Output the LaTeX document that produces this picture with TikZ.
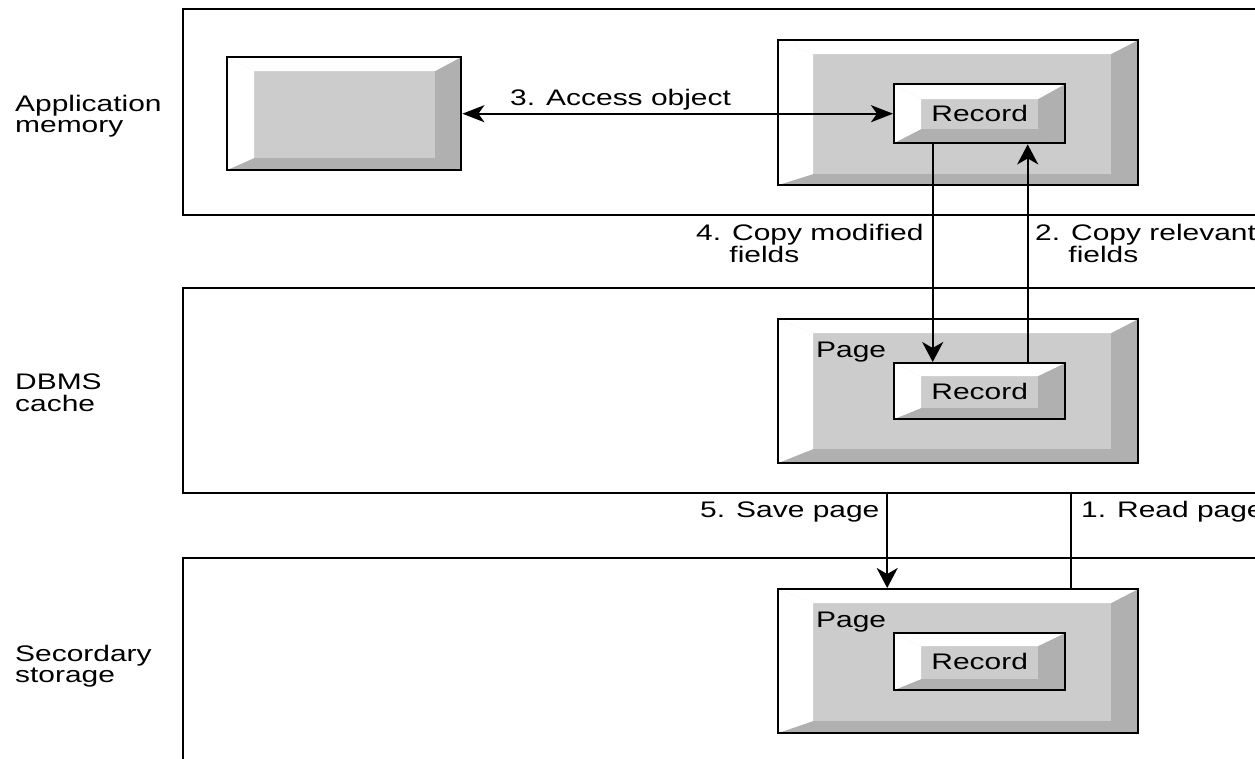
\documentclass[tikz,border=0pt]{standalone}
\usepackage{fontspec}
\setmainfont{Liberation Sans}
\usepackage{graphicx}
\usetikzlibrary{arrows.meta}

\definecolor{face}{HTML}{CCCCCC}
\definecolor{sidegray}{HTML}{B0B0B0}

% wide sans lettering used throughout
\newcommand\wide[1]{\scalebox{1.33}[1]{#1}}
\newcommand\lines[1]{\wide{\begin{tabular}[t]{@{}l@{}}#1\end{tabular}}}

\tikzset{
  lane/.style={draw=black, line width=2pt, inner sep=0pt, anchor=north west},
  % raised box: #1 left, #2 top, #3 right, #4 bottom bevel widths
  bevelbox/.style n args={4}{draw=black, line width=2.4pt, fill=face,
    inner sep=0pt, anchor=north west,
    path picture={
      \path (path picture bounding box.north west) coordinate (bNW)
            (path picture bounding box.north east) coordinate (bNE)
            (path picture bounding box.south east) coordinate (bSE)
            (path picture bounding box.south west) coordinate (bSW);
      \path ([shift={(#1,#2)}]bNW) coordinate (iNW)
            ([shift={(-#3,#2)}]bNE) coordinate (iNE)
            ([shift={(-#3,-#4)}]bSE) coordinate (iSE)
            ([shift={(#1,-#4)}]bSW) coordinate (iSW);
      \fill[white] (bNW) -- (bNE) -- (iNE) -- (iNW) -- cycle;
      \fill[white] (bNW) -- (iNW) -- (iSW) -- (bSW) -- cycle;
      \fill[sidegray] (bNE) -- (bSE) -- (iSE) -- (iNE) -- cycle;
      \fill[sidegray] (bSW) -- (iSW) -- (iSE) -- (bSE) -- cycle;
    }},
  label/.style={anchor=base west, inner sep=0pt},
  flow/.style={line width=2.3pt},
  htip/.tip={Stealth[length=22pt,width=17pt,inset=6pt]},
  vtip/.tip={Stealth[length=20pt,width=21pt,inset=6pt]},
}

\begin{document}
\begin{tikzpicture}[x=1pt,y=-1pt,
  every node/.style={font=\fontsize{22.5}{21.5}\selectfont}]
\path[use as bounding box, clip] (0,0) rectangle (1255,758);

% storage levels
\node[lane, minimum width=1120pt, minimum height=206pt] (app)   at (182,8)   {};
\node[lane, minimum width=1120pt, minimum height=205pt] (cache) at (182,287) {};
\node[lane, minimum width=1120pt, minimum height=250pt] (store) at (182,557) {};

\node[label] (lapp)   at (15,111) {\lines{Application\\memory}};
\node[label] (lcache) at (15,389) {\lines{DBMS\\cache}};
\node[label] (lstore) at (15,661) {\lines{Secordary\\storage}};

% application memory
\node[bevelbox={27}{14}{26}{12}, minimum width=234pt, minimum height=113pt] (obj) at (226,56) {};
\node[bevelbox={35}{14}{27}{11}, minimum width=360pt, minimum height=145pt] (mem) at (777,39) {};
\node[bevelbox={27}{15}{27}{14}, minimum width=171pt, minimum height=59pt] (rec1) at (893,83) {\wide{Record}};

% DBMS cache
\node[bevelbox={35}{14}{27}{14}, minimum width=360pt, minimum height=144pt] (page2) at (777,318) {};
\node[label] (lpage2) at (816,357) {\wide{Page}};
\node[bevelbox={27}{13}{27}{11}, minimum width=171pt, minimum height=56pt] (rec2) at (893,362) {\wide{Record}};

% secondary storage
\node[bevelbox={35}{14}{27}{12}, minimum width=360pt, minimum height=144pt] (page3) at (777,588) {};
\node[label] (lpage3) at (816,627) {\wide{Page}};
\node[bevelbox={27}{13}{27}{11}, minimum width=171pt, minimum height=57pt] (rec3) at (893,632) {\wide{Record}};

% data movement
\draw[flow, htip-htip] (obj.east) -- (rec1.west);
\node[label] (l3) at (510,105) {\wide{3. Access object}};

\coordinate (c4a) at ([xshift=-47]rec1.south);
\coordinate (c4b) at ([xshift=-47]rec2.north);
\draw[flow, -vtip] (c4a) -- (c4b);
\node[label] (l4) at (696,240) {\lines{4. Copy modified\\\hspace*{25pt}fields}};

\coordinate (c2a) at ([xshift=48]rec2.north);
\coordinate (c2b) at ([xshift=48]rec1.south);
\draw[flow, -vtip] (c2a) -- (c2b);
\node[label] (l2) at (1035,240) {\lines{2. Copy relevant\\\hspace*{25pt}fields}};

\coordinate (c5) at ([xshift=-71]page3.north);
\draw[flow, -vtip] (c5 |- cache.south) -- (c5);
\node[label] (l5) at (700,517) {\wide{5. Save page}};

\coordinate (c1) at ([xshift=113]page3.north);
\draw[flow] (c1) -- (c1 |- cache.south);
\node[label] (l1) at (1081,517) {\wide{1. Read page}};
\end{tikzpicture}
\end{document}
